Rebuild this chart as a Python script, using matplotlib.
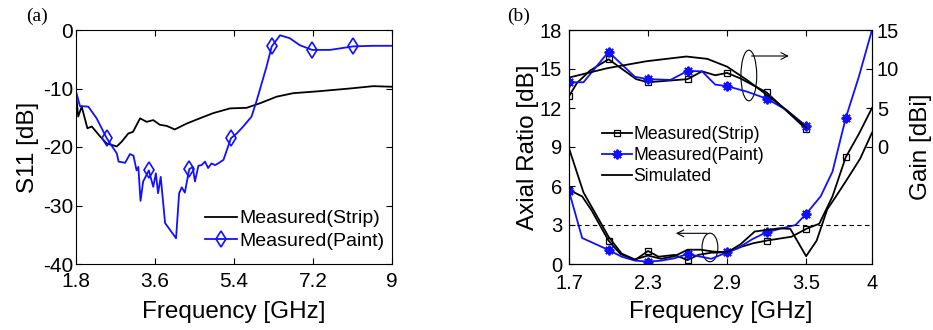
import numpy as np
import matplotlib
matplotlib.use('Agg')
import matplotlib.pyplot as plt
from matplotlib.patches import Ellipse

plt.rcParams['font.family'] = ['Liberation Sans', 'DejaVu Sans']
plt.rcParams['axes.unicode_minus'] = False

# ---------------- Panel (a): S11 ----------------
a_freq_strip = [1.8, 1.85, 1.93, 2.06, 2.16, 2.35, 2.5, 2.73, 2.84, 2.99, 3.1, 3.26, 3.41,
                3.56, 3.71, 3.87, 4.05, 4.32, 4.62, 4.93, 5.31, 5.69, 6.0, 6.37, 6.75,
                7.28, 8.04, 8.57, 9.0]
a_s11_strip = [-10.8, -14.8, -13.1, -16.8, -16.5, -18.2, -19.4, -19.9, -19.1, -17.7, -17.4,
               -15.1, -15.7, -15.4, -16.2, -16.4, -17.0, -16.0, -15.1, -14.2, -13.4, -13.3,
               -12.5, -11.4, -10.8, -10.5, -10.0, -9.6, -9.7]

a_freq_paint = [1.8, 1.89, 2.08, 2.27, 2.5, 2.73, 2.77, 2.92, 3.03, 3.11, 3.18, 3.22, 3.27,
                3.33, 3.46, 3.56, 3.62, 3.67, 3.73, 3.83, 4.08, 4.15, 4.21, 4.28, 4.38,
                4.46, 4.51, 4.59, 4.66, 4.74, 4.81, 4.89, 4.97, 5.04, 5.16, 5.33, 5.46,
                5.61, 5.8, 5.92, 6.14, 6.26, 6.45, 6.67, 6.9, 7.18, 7.59, 8.12, 8.57, 9.0]
a_s11_paint = [-10.5, -13.0, -13.1, -15.1, -18.5, -21.1, -22.5, -22.7, -21.2, -21.5, -24.0,
               -23.4, -29.2, -25.9, -24.0, -26.8, -24.5, -27.9, -25.1, -33.0, -35.6, -27.9,
               -26.9, -27.8, -23.8, -23.4, -25.9, -23.2, -23.1, -22.5, -23.6, -22.8, -23.1,
               -22.8, -22.2, -18.5, -17.7, -16.5, -14.8, -12.0, -6.3, -2.8, -0.9, -1.4,
               -2.6, -3.4, -3.4, -2.8, -2.7, -2.7]
a_paint_marks = [2.5, 3.46, 4.38, 5.33, 6.26, 7.18, 8.12]
a_xticks = [1.8, 3.6, 5.4, 7.2, 9]
a_xticklabels = ['1.8', '3.6', '5.4', '7.2', '9']
a_yticks = [-40, -30, -20, -10, 0]

# ---------------- Panel (b): Axial ratio & gain ----------------
ar_freq_strip = [1.7, 1.8, 1.87, 2.0, 2.09, 2.2, 2.3, 2.38, 2.5, 2.6, 2.68, 2.78, 2.9, 3.01,
                 3.1, 3.2, 3.39, 3.5, 3.6, 3.7, 3.8, 3.9, 4.0]
ar_strip = [5.7, 5.2, 4.15, 1.8, 0.77, 0.3, 1.0, 0.56, 0.7, 0.3, 0.7, 0.87, 0.9, 1.33,
            1.6, 1.8, 2.1, 2.7, 3.1, 5.2, 8.2, 10.0, 12.0]

ar_freq_paint = [1.7, 1.8, 2.0, 2.1, 2.2, 2.3, 2.4, 2.5, 2.6, 2.68, 2.78, 2.9, 2.98, 3.09,
                 3.2, 3.42, 3.5, 3.61, 3.7, 3.8, 3.9, 4.0]
ar_paint = [5.6, 2.0, 1.08, 0.56, 0.26, 0.18, 0.26, 0.44, 0.77, 0.6, 0.4, 0.9, 1.2, 1.9,
            2.45, 3.0, 3.85, 5.2, 7.1, 11.2, 14.4, 18.0]

ar_freq_sim = [1.7, 1.81, 1.9, 2.0, 2.1, 2.2, 2.3, 2.4, 2.5, 2.6, 2.7, 2.8, 2.9, 3.0, 3.11,
               3.3, 3.38, 3.5, 3.58, 3.66, 3.72, 3.81, 3.91, 4.0]
ar_sim = [8.9, 5.5, 3.9, 2.1, 0.8, 0.35, 0.65, 0.4, 0.6, 1.1, 1.1, 0.95, 0.9, 1.5, 2.5,
          2.75, 2.7, 0.6, 1.8, 4.2, 5.1, 6.5, 8.1, 10.1]

g_freq_strip = [1.7, 1.76, 1.86, 2.0, 2.21, 2.3, 2.6, 2.71, 2.81, 2.9, 3.0, 3.2, 3.5]
gain_strip = [6.5, 8.2, 9.8, 11.25, 8.7, 8.3, 8.7, 9.7, 9.2, 9.5, 8.8, 7.0, 2.3]

g_freq_paint = [1.7, 1.81, 2.0, 2.2, 2.3, 2.47, 2.6, 2.71, 2.81, 2.9, 3.05, 3.2, 3.35, 3.5]
gain_paint = [8.3, 8.3, 12.2, 9.0, 8.7, 8.6, 9.75, 9.7, 8.0, 7.8, 7.1, 6.2, 4.75, 2.7]

g_freq_sim = [1.7, 1.99, 2.29, 2.59, 2.75, 2.9, 3.05, 3.2, 3.35, 3.5]
gain_sim = [8.9, 10.1, 11.0, 11.6, 11.3, 10.3, 8.6, 6.7, 4.75, 2.5]

b_marks = [1.7, 2.0, 2.3, 2.6, 2.9, 3.2, 3.5, 3.8]
b_xticks = [1.7, 2.3, 2.9, 3.5, 4.0]
b_xticklabels = ['1.7', '2.3', '2.9', '3.5', '4']
b_yticks = [0, 3, 6, 9, 12, 15, 18]
b_gticks = [0, 5, 10, 15]
ar_limit = 3


def mark_idx(freqs, marks):
    f = np.asarray(freqs)
    out = []
    for m in marks:
        i = int(np.argmin(np.abs(f - m)))
        if abs(f[i] - m) < 0.02:
            out.append(i)
    return out


BLUE = '#1010ff'
STAR = (8, 2, 0)
fig = plt.figure(figsize=(9.33, 3.30), dpi=100)
W, H = 933, 330
axa = fig.add_axes([76 / W, 66 / H, 316 / W, 234 / H])
axb = fig.add_axes([569 / W, 66 / H, 303 / W, 234 / H])

# ---- panel a ----
axa.plot(a_freq_strip, a_s11_strip, color='k', lw=1.3, label='Measured(Strip)')
axa.plot(a_freq_paint, a_s11_paint, color=BLUE, lw=1.3, marker='d', ms=8.5, mfc='none',
         mec=BLUE, mew=1.2, markevery=mark_idx(a_freq_paint, a_paint_marks),
         label='Measured(Paint)')
axa.set_xlim(1.8, 9)
axa.set_ylim(-40, 0)
axa.set_xticks(a_xticks)
axa.set_xticklabels(a_xticklabels)
axa.set_yticks(a_yticks)
axa.tick_params(direction='in', top=True, right=True, length=4, width=0.8,
                labelsize=15)
axa.tick_params(axis='y', pad=2)
axa.tick_params(axis='x', pad=6)
axa.set_xlabel('Frequency [GHz]', fontsize=17.5)
axa.set_ylabel('S11 [dB]', fontsize=17.5)
axa.xaxis.set_label_coords(0.5, -0.16)
axa.yaxis.set_label_coords(-0.117, 0.5)
axa.legend(loc='lower right', bbox_to_anchor=(0.975, 0.06), frameon=False, fontsize=14,
           handlelength=1.65, handletextpad=0.1, labelspacing=0.25, borderpad=0,
           borderaxespad=0)

# ---- panel b ----
axg = axb.twinx()
l1, = axb.plot(ar_freq_strip, ar_strip, color='k', lw=1.3, marker='s', ms=5, mfc='none',
               mec='k', mew=0.9, markevery=mark_idx(ar_freq_strip, b_marks))
l2, = axb.plot(ar_freq_paint, ar_paint, color=BLUE, lw=1.3, marker=STAR, ms=7,
               mec=BLUE, mfc=BLUE, mew=1.4, markevery=mark_idx(ar_freq_paint, b_marks))
l3, = axb.plot(ar_freq_sim, ar_sim, color='k', lw=1.3)
axb.axhline(ar_limit, color='k', lw=0.8, ls=(0, (4, 3)))

axg.plot(g_freq_strip, gain_strip, color='k', lw=1.3, marker='s', ms=5, mfc='none',
         mec='k', mew=0.9, markevery=mark_idx(g_freq_strip, b_marks))
axg.plot(g_freq_paint, gain_paint, color=BLUE, lw=1.3, marker=STAR, ms=7,
         mec=BLUE, mfc=BLUE, mew=1.4, markevery=mark_idx(g_freq_paint, b_marks))
axg.plot(g_freq_sim, gain_sim, color='k', lw=1.3)

axb.set_xlim(1.7, 4.0)
axb.set_ylim(0, 18)
axg.set_ylim(-15, 15)
axb.set_xticks(b_xticks)
axb.set_xticklabels(b_xticklabels)
axb.set_yticks(b_yticks)
axg.set_yticks(b_gticks)
axb.tick_params(direction='in', top=True, right=False, length=4, width=0.8, labelsize=14.5)
axb.tick_params(axis='y', pad=5)
axb.tick_params(axis='x', pad=7)
axg.tick_params(direction='in', length=4, width=0.8, labelsize=14.5, pad=3.5)
axb.set_xlabel('Frequency [GHz]', fontsize=17.5)
axb.set_ylabel('Axial Ratio [dB]', fontsize=17.5)
axg.set_ylabel('Gain [dBi]', fontsize=17.5)
axb.xaxis.set_label_coords(0.5, -0.16)
axb.yaxis.set_label_coords(-0.099, 0.5)
axg.yaxis.set_label_coords(1.125, 0.5)

# ellipses and arrows
axb.add_patch(Ellipse((3.065, 14.5), 0.12, 3.9, fill=False, ec='k', lw=0.8))
axb.annotate('', xy=(3.39, 16.0), xytext=(3.065, 16.0),
             arrowprops=dict(arrowstyle='->', lw=0.8, color='k', mutation_scale=12))
axb.add_patch(Ellipse((2.77, 1.27), 0.12, 2.2, fill=False, ec='k', lw=0.8))
axb.annotate('', xy=(2.49, 2.36), xytext=(2.77, 2.36),
             arrowprops=dict(arrowstyle='->', lw=0.8, color='k', mutation_scale=12))

axb.legend([l1, l2, l3], ['Measured(Strip)', 'Measured(Paint)', 'Simulated'],
           loc='upper left', bbox_to_anchor=(0.108, 0.59), frameon=False, fontsize=12.7,
           handlelength=1.7, handletextpad=0.1, labelspacing=0.22, borderpad=0,
           borderaxespad=0)

fig.text(26 / W, 1 - 16 / H, '(a)', family='Liberation Serif', fontsize=14, va='center')
fig.text(507 / W, 1 - 16 / H, '(b)', family='Liberation Serif', fontsize=14, va='center')

fig.savefig('out.png', dpi=100)
